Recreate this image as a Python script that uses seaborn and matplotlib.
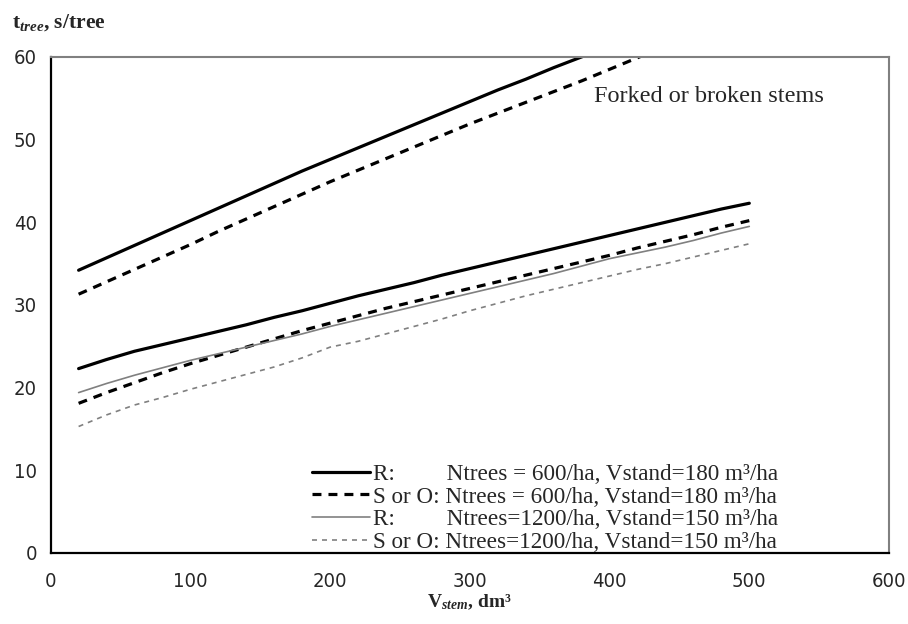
import numpy as np
import pandas as pd
import matplotlib
matplotlib.use('Agg')
import matplotlib.pyplot as plt
import seaborn as sns

# ========== data ==========
v_stem = [20, 40, 60, 80, 100, 120, 140, 160, 180, 200, 220, 240, 260,
          280, 300, 320, 340, 360, 380, 400, 420, 440, 460, 480, 500]

# normal stems, 600 trees/ha
r_600 = [22.3, 23.4, 24.4, 25.2, 26.0, 26.8, 27.6, 28.5, 29.3, 30.2, 31.1, 31.9, 32.7,
         33.6, 34.4, 35.2, 36.0, 36.8, 37.6, 38.4, 39.2, 40.0, 40.8, 41.6, 42.3]
so_600 = [18.1, 19.4, 20.6, 21.8, 22.9, 23.9, 24.9, 25.9, 26.9, 27.8, 28.7, 29.6, 30.4,
          31.2, 32.0, 32.8, 33.6, 34.4, 35.2, 36.0, 36.9, 37.7, 38.5, 39.4, 40.2]
# normal stems, 1200 trees/ha
r_1200 = [19.4, 20.5, 21.5, 22.4, 23.3, 24.1, 24.9, 25.7, 26.5, 27.4, 28.2, 29.0, 29.8,
          30.6, 31.4, 32.2, 33.0, 33.8, 34.7, 35.6, 36.3, 37.0, 37.8, 38.7, 39.5]
so_1200 = [15.3, 16.7, 17.9, 18.8, 19.8, 20.7, 21.6, 22.5, 23.6, 24.9, 25.6, 26.5, 27.4,
           28.3, 29.3, 30.2, 31.1, 31.9, 32.7, 33.5, 34.3, 35.0, 35.8, 36.6, 37.4]

# forked or broken stems (run off the top of the plot)
v_fork = [20, 40, 60, 80, 100, 120, 140, 160, 180, 200, 220, 240, 260,
          280, 300, 320, 340, 360, 380, 400, 420, 440]
r_fork = [34.2, 35.7, 37.2, 38.7, 40.2, 41.7, 43.2, 44.7, 46.2, 47.6, 49.0, 50.4, 51.8,
          53.2, 54.6, 56.0, 57.3, 58.7, 60.0, 61.3, 62.6, 63.9]
so_fork = [31.3, 32.8, 34.3, 35.8, 37.3, 38.9, 40.4, 41.9, 43.4, 44.9, 46.3, 47.7, 49.1,
           50.5, 51.9, 53.2, 54.5, 55.8, 57.1, 58.5, 59.9, 61.3]

labels = ['R:' + ' ' * 9 + 'Ntrees = 600/ha, Vstand=180 m³/ha',
          'S or O: Ntrees = 600/ha, Vstand=180 m³/ha',
          'R:' + ' ' * 9 + 'Ntrees=1200/ha, Vstand=150 m³/ha',
          'S or O: Ntrees=1200/ha, Vstand=150 m³/ha']

# ========== style ==========
sns.set_style('white')
plt.rcParams['font.family'] = ['Liberation Serif', 'DejaVu Serif']
plt.rcParams['mathtext.fontset'] = 'custom'
plt.rcParams['mathtext.rm'] = 'Liberation Serif:bold'
plt.rcParams['mathtext.it'] = 'Liberation Serif:italic:bold'
plt.rcParams['mathtext.bf'] = 'Liberation Serif:bold'

fig = plt.figure(figsize=(9.08, 6.24), dpi=100)
ax = fig.add_axes([0.0558, 0.1138, 0.9233, 0.795])

black = '#000000'
grey = '#808080'
dash_blk = (0, (2.8, 2.2))

sns.lineplot(x=v_fork, y=r_fork, ax=ax, color=black, lw=2.3, label='_fork_r')
sns.lineplot(x=v_fork, y=so_fork, ax=ax, color=black, lw=2.3, label='_fork_so',
             linestyle=dash_blk)
sns.lineplot(x=v_stem, y=r_600, ax=ax, color=black, lw=2.3, label=labels[0])
sns.lineplot(x=v_stem, y=so_600, ax=ax, color=black, lw=2.3, label=labels[1],
             linestyle=dash_blk)
sns.lineplot(x=v_stem, y=r_1200, ax=ax, color=grey, lw=1.2, label=labels[2])
sns.lineplot(x=v_stem, y=so_1200, ax=ax, color=grey, lw=1.2, label=labels[3],
             linestyle=(0, (3, 3)))

ax.set_xlim(0, 600)
ax.set_ylim(0, 60)
ax.set_xticks(range(0, 601, 100))
ax.set_yticks(range(0, 61, 10))

for side in ['left', 'bottom']:
    ax.spines[side].set_color(black)
    ax.spines[side].set_linewidth(1.6)
for side in ['top', 'right']:
    ax.spines[side].set_color(grey)
    ax.spines[side].set_linewidth(1.5)
ax.tick_params(axis='both', direction='out', length=6, width=1.4, color=black,
               labelsize=14.5)
ax.tick_params(axis='y', pad=4)
ax.tick_params(axis='x', pad=8)
for lab in ax.get_xticklabels() + ax.get_yticklabels():
    lab.set_family(['DejaVu Sans'])
    lab.set_fontstretch('condensed')

ax.set_xlabel(r'$\mathrm{V}_{stem}$, dm³', fontsize=14, fontweight='bold', labelpad=1)
fig.text(0.013, 0.955, r'$\mathrm{t}_{tree}$, s/tree', fontsize=15.5, fontweight='bold',
         ha='left', va='baseline')

ax.text(389, 55.2, 'Forked or broken stems', fontsize=17.5, ha='left', va='center')

handles = ax.get_lines()[2:6]
leg = ax.legend(handles=handles, labels=labels, loc='upper left',
                bbox_to_anchor=(0.312, 0.18), frameon=False, fontsize=16.7,
                handlelength=2.5, handletextpad=0.1, labelspacing=0.06,
                borderaxespad=0, borderpad=0)

fig.savefig('out.png', dpi=100)
